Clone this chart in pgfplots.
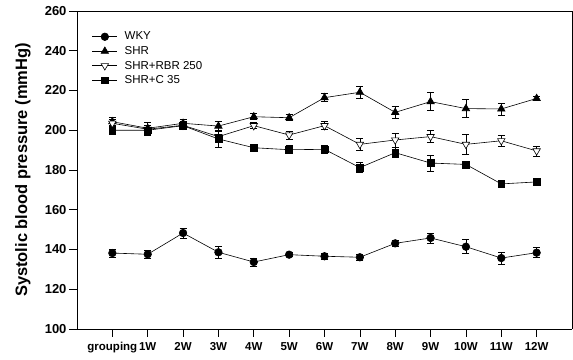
\documentclass[border=0pt]{standalone}
\usepackage{pgfplots}
\pgfplotsset{compat=1.18}
\usepackage{fontspec}
\setmainfont{Liberation Sans}
\begin{document}
\begin{tikzpicture}
\begin{axis}[
  scale only axis,
  width=495pt, height=318pt,
  xmin=-1, xmax=13, ymin=100, ymax=260,
  xtick={0,...,12},
  xticklabels={grouping,1W,2W,3W,4W,5W,6W,7W,8W,9W,10W,11W,12W},
  ytick={100,120,...,260},
  axis x line*=bottom, axis y line*=left,
  tick align=outside, major tick length=8pt,
  tick style={black, line width=0.6pt},
  axis line style={line width=0.8pt},
  /pgf/number format/assume math mode=true,
  xticklabel style={font=\bfseries\fontsize{11.5}{12}\selectfont, yshift=-2pt},
  yticklabel style={font=\bfseries\fontsize{13}{14}\selectfont, xshift=1pt},
  legend style={draw=none, fill=none, at={(axis cs:-0.58,250)}, anchor=north west,
    font=\fontsize{11.5}{13}\selectfont, row sep=3pt, inner sep=0pt,
    nodes={inner sep=1pt}},
  legend cell align=left,
  legend image code/.code={\draw[#1, mark repeat=2, mark phase=2] plot coordinates {(0pt,0pt) (12.5pt,0pt) (25pt,0pt)}; \path (31pt,0pt);},
  error bars/error bar style={black, line width=0.6pt},
  error bars/error mark options={black, rotate=90, mark size=3.5pt, line width=0.6pt},
]
% WKY
\addplot[black, line width=0.6pt, mark=*, mark size=3.8pt, mark options={fill=black, solid}, error bars/.cd, y dir=both, y explicit]
coordinates {
(0,138.2) +- (0,2)
(1,137.6) +- (0,2)
(2,148.3) +- (0,2.5)
(3,138.6) +- (0,3)
(4,133.7) +- (0,2)
(5,137.4) +- (0,1)
(6,136.6) +- (0,1.5)
(7,136.1) +- (0,1.5)
(8,143.1) +- (0,1.5)
(9,145.8) +- (0,2.5)
(10,141.4) +- (0,3.5)
(11,135.7) +- (0,3)
(12,138.4) +- (0,2.5)
};
\addlegendentry{WKY}
% SHR
\addplot[black, line width=0.6pt, mark=triangle*, mark size=4.3pt, mark options={fill=black}, error bars/.cd, y dir=both, y explicit]
coordinates {
(0,204.3) +- (0,2)
(1,201.0) +- (0,3)
(2,203.5) +- (0,2)
(3,202.1) +- (0,2.5)
(4,206.8) +- (0,1.5)
(5,206.3) +- (0,1.5)
(6,216.4) +- (0,2)
(7,219.1) +- (0,3)
(8,209.0) +- (0,3)
(9,214.4) +- (0,4.5)
(10,210.9) +- (0,4.5)
(11,210.7) +- (0,3)
(12,216.0) +- (0,1)
};
\addlegendentry{SHR}
% SHR+RBR 250
\addplot[black, line width=0.6pt, mark=triangle*, mark size=4.3pt, mark options={fill=white, rotate=180}, error bars/.cd, y dir=both, y explicit]
coordinates {
(0,203.5) +- (0,2)
(1,200.5) +- (0,2)
(2,202.5) +- (0,2)
(3,196.8) +- (0,3)
(4,202.3) +- (0,1.5)
(5,197.6) +- (0,2)
(6,202.3) +- (0,2)
(7,192.9) +- (0,3)
(8,195.1) +- (0,3.5)
(9,196.8) +- (0,3)
(10,192.9) +- (0,5)
(11,194.7) +- (0,3)
(12,189.6) +- (0,2.5)
};
\addlegendentry{SHR+RBR 250}
% SHR+C 35
\addplot[black, line width=0.6pt, mark=square*, mark size=3.4pt, mark options={fill=black}, error bars/.cd, y dir=both, y explicit]
coordinates {
(0,200.0) +- (0,2)
(1,200.0) +- (0,2.5)
(2,202.3) +- (0,1.5)
(3,195.6) +- (0,4)
(4,191.2) +- (0,1.5)
(5,190.2) +- (0,2)
(6,190.4) +- (0,2)
(7,181.2) +- (0,2.5)
(8,188.7) +- (0,2.5)
(9,183.5) +- (0,4)
(10,182.8) +- (0,1.5)
(11,173.0) +- (0,1.5)
(12,174.0) +- (0,1.5)
};
\addlegendentry{SHR+C 35}
\coordinate (bl) at (rel axis cs:0,0);
\coordinate (tr) at (rel axis cs:1,1);
\coordinate (tl) at (rel axis cs:0,1);
\coordinate (br) at (rel axis cs:1,0);
\coordinate (ml) at (rel axis cs:0,0.5);
\end{axis}
\draw[line width=0.8pt] (tl) -- (tr) -- (br);
\node[rotate=90, font=\bfseries\fontsize{16.5}{18}\selectfont, anchor=center] at ([xshift=-54pt]ml) {Systolic blood pressure (mmHg)};
\pgfresetboundingbox
\path ([shift={(-77pt,-31pt)}]bl) rectangle ([shift={(1pt,11pt)}]tr);
\end{tikzpicture}
\end{document}
